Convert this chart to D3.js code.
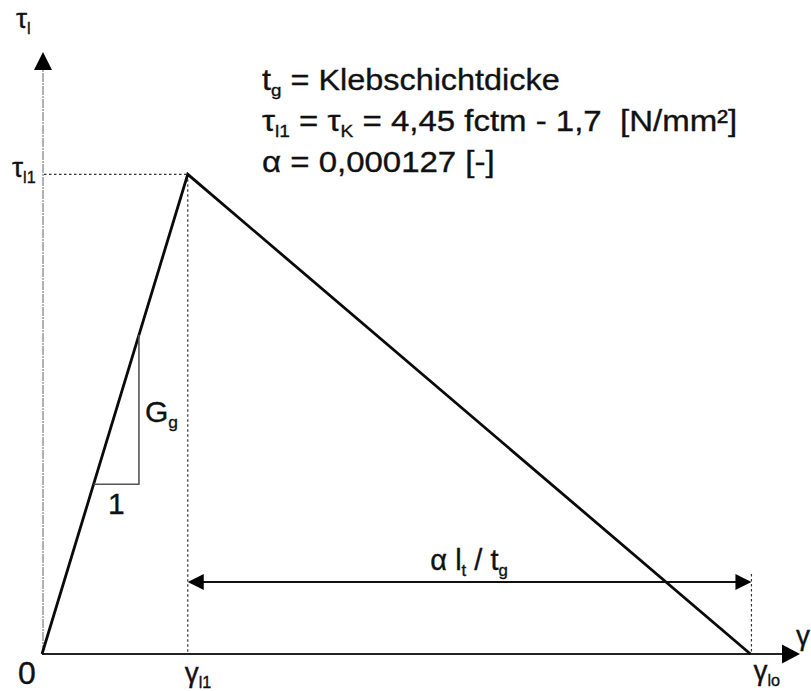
<!DOCTYPE html>
<html>
<head>
<meta charset="utf-8">
<script src="https://cdn.jsdelivr.net/npm/d3@7"></script>
<style>
  html, body { margin: 0; padding: 0; background: #fff; }
  svg { display: block; }
  text { font-family: "Liberation Sans", Arial, Helvetica, sans-serif; fill: #111; stroke: #111; stroke-width: 0.35; }
</style>
</head>
<body>
<svg id="chart" width="811" height="691"></svg>
<script>
// Bilinear bond-slip law (normalised: γ in units of γl1, τ in units of τl1)
const gammaPoints = [0, 1, 4.86];      // 0, γl1, γl0
const tauPoints   = [0, 1, 0];         // 0, τl1, 0
const gammaMax = 5.2;                  // end of γ axis
const tauMax = 1.255;                  // end of τ axis
const slopeTriangle = [0.354, 0.665];  // γ span of the G_g stiffness triangle
const dimensionTau = 0.15;             // height of the α·lt/tg dimension line

const formulaLines = [
  [{t: "t"}, {t: "g", sub: true}, {t: " = Klebschichtdicke"}],
  [{t: "τ"}, {t: "l1", sub: true}, {t: " = τ"}, {t: "K", sub: true}, {t: " = 4,45 fctm - 1,7 \u00a0[N/mm²]"}],
  [{t: "α = 0,000127 [-]"}]
];
const formulaStretch = [1.08, 1.1, 1.1];

const svg = d3.select("#chart");
const x = d3.scaleLinear().domain([0, gammaMax]).range([42, 800]);
const y = d3.scaleLinear().domain([0, tauMax]).range([654, 52]);

// Writes a label made of normal and subscript runs
function richText(g, parts, px, py, size, anchor) {
  const t = g.append("text").attr("x", px).attr("y", py)
    .attr("font-size", size).attr("text-anchor", anchor || "start");
  let shifted = false;
  parts.forEach(p => {
    const s = t.append("tspan").text(p.t);
    if (p.sub) {
      s.attr("font-size", size * 0.58).attr("dy", shifted ? 0 : size * 0.2);
      shifted = true;
    } else {
      s.attr("dy", shifted ? -size * 0.2 : 0);
      shifted = false;
    }
  });
  return t;
}

function arrowHead(tipX, tipY, dir, len, half) {
  let pts;
  if (dir === "up") pts = [[tipX, tipY], [tipX - half, tipY + len], [tipX + half, tipY + len]];
  else if (dir === "right") pts = [[tipX, tipY], [tipX - len, tipY - half], [tipX - len, tipY + half]];
  else pts = [[tipX, tipY], [tipX + len, tipY - half], [tipX + len, tipY + half]];
  svg.append("polygon").attr("points", pts.map(p => p.join(",")).join(" ")).attr("fill", "#000");
}

// τ axis (faint) and γ axis
svg.append("line")
  .attr("x1", x(0) + 1).attr("y1", y(0)).attr("x2", x(0) + 1).attr("y2", y(tauMax) + 16)
  .attr("stroke", "#888").attr("stroke-width", 1.3).attr("stroke-dasharray", "9,1,2,1");
arrowHead(x(0) + 1, y(tauMax), "up", 18, 9);

svg.append("line")
  .attr("x1", x(0)).attr("y1", y(0)).attr("x2", x(gammaMax) - 16).attr("y2", y(0))
  .attr("stroke", "#222").attr("stroke-width", 2);
arrowHead(x(gammaMax), y(0), "right", 18, 9.5);

// Dotted guides for τl1, γl1 and γl0
function guide(x1, y1, x2, y2) {
  svg.append("line").attr("x1", x1).attr("y1", y1).attr("x2", x2).attr("y2", y2)
    .attr("stroke", "#333").attr("stroke-width", 1.2).attr("stroke-dasharray", "2.5,2.5");
}
guide(x(0) + 2, y(tauPoints[1]), x(gammaPoints[1]), y(tauPoints[1]));
guide(x(gammaPoints[1]), y(tauPoints[1]), x(gammaPoints[1]), y(0));
guide(x(gammaPoints[2]) + 1, y(dimensionTau) - 8, x(gammaPoints[2]) + 1, y(0));

// Bond-slip curve
const curve = d3.line().x((d, i) => x(gammaPoints[i])).y((d, i) => y(tauPoints[i]));
svg.append("path").datum(gammaPoints).attr("d", curve)
  .attr("fill", "none").attr("stroke", "#0a0a0a").attr("stroke-width", 2.8)
  .attr("stroke-linejoin", "miter");

// Stiffness triangle G_g
const [g0, g1] = slopeTriangle;
svg.append("path")
  .attr("d", `M${x(g0)},${y(g0)} H${x(g1)} V${y(g1)}`)
  .attr("fill", "none").attr("stroke", "#555").attr("stroke-width", 1.6);
richText(svg, [{t: "G"}, {t: "g", sub: true}], x(g1) + 6, y((g0 + g1) / 2) + 12, 30);
svg.append("text").attr("x", (x(g0) + x(g1)) / 2).attr("y", y(g0) + 30)
  .attr("font-size", 30).attr("text-anchor", "middle").text("1");

// Dimension line α·lt/tg between γl1 and γl0
const dimY = y(dimensionTau);
svg.append("line")
  .attr("x1", x(gammaPoints[1]) + 10).attr("y1", dimY).attr("x2", x(gammaPoints[2]) - 10).attr("y2", dimY)
  .attr("stroke", "#111").attr("stroke-width", 2);
arrowHead(x(gammaPoints[1]), dimY, "left", 16, 8);
arrowHead(x(gammaPoints[2]) + 1, dimY, "right", 16, 8);
richText(svg, [{t: "α l"}, {t: "t", sub: true}, {t: " / t"}, {t: "g", sub: true}],
  (x(gammaPoints[1]) + x(gammaPoints[2])) / 2, dimY - 12, 29, "middle");

// Axis labels
richText(svg, [{t: "τ"}, {t: "l", sub: true}], 16, 28, 28);
richText(svg, [{t: "τ"}, {t: "l1", sub: true}], 12, y(tauPoints[1]) + 3, 28);
svg.append("text").attr("x", 27).attr("y", 684).attr("font-size", 32)
  .attr("text-anchor", "middle").text("0");
richText(svg, [{t: "γ"}, {t: "l1", sub: true}], x(gammaPoints[1]) - 3, 682, 28);
richText(svg, [{t: "γ"}, {t: "lo", sub: true}], x(gammaPoints[2]) + 3, 680, 28);
svg.append("text").attr("x", 796).attr("y", 645).attr("font-size", 28).text("γ");

// Formula block, set slightly wide
formulaLines.forEach((parts, i) => {
  const g = svg.append("g").attr("transform", `translate(262,${90 + i * 41}) scale(${formulaStretch[i]},1)`);
  richText(g, parts, 0, 0, 30);
});
</script>
</body>
</html>
